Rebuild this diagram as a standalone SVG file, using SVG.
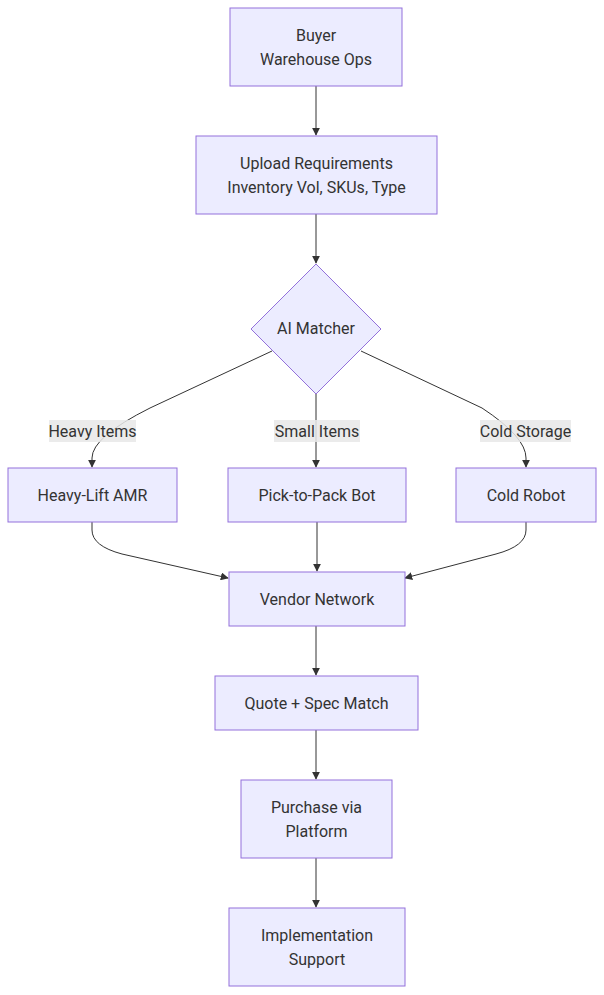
<svg xmlns="http://www.w3.org/2000/svg" width="604" height="995" viewBox="0 0 604 995">
<defs>
<marker id="arr" viewBox="0 0 10 10" refX="9" refY="5" markerWidth="8" markerHeight="8" markerUnits="userSpaceOnUse" orient="auto">
<path d="M0,0 L10,5 L0,10 z" fill="#333"/>
</marker>
<style>
.n{fill:#ECECFF;stroke:#9370DB;stroke-width:1px}
.t{font-family:Roboto,"Liberation Sans",sans-serif;font-size:16px;fill:#333;text-anchor:middle}
.e{fill:none;stroke:#333;stroke-width:1px;marker-end:url(#arr)}
.lb{fill:#e8e8e8;opacity:0.85}
</style>
</defs>
<rect width="604" height="995" fill="#fff"/>
<g id="edges">
<path class="e" d="M316,86 L316,135"/>
<path class="e" d="M316,214 L316,263"/>
<path class="e" d="M272,351 L150,408 Q92,437 92,458 L92,467"/>
<path class="e" d="M316,394 L316,467"/>
<path class="e" d="M361,351 L482,408 Q526,437 526,458 L526,467"/>
<path class="e" d="M92,522 L92,530 Q92,546 122,554 L228,578"/>
<path class="e" d="M317,522 L317,571"/>
<path class="e" d="M526,522 L526,530 Q526,546 496,554 L405,578"/>
<path class="e" d="M316,626 L316,675"/>
<path class="e" d="M316,730 L316,779"/>
<path class="e" d="M316,858 L316,907"/>
</g>
<g id="edge-labels">
<rect class="lb" x="49" y="420" width="87" height="22"/>
<text class="t" x="92.5" y="437">Heavy Items</text>
<rect class="lb" x="274" y="420" width="86" height="22"/>
<text class="t" x="317" y="437">Small Items</text>
<rect class="lb" x="480" y="420" width="91" height="22"/>
<text class="t" x="525.5" y="437">Cold Storage</text>
</g>
<g id="buyer">
<rect class="n" x="230" y="8" width="172" height="78"/>
<text class="t" x="316" y="41">Buyer</text>
<text class="t" x="316" y="65">Warehouse Ops</text>
</g>
<g id="upload">
<rect class="n" x="196" y="136" width="241" height="78"/>
<text class="t" x="316.5" y="169">Upload Requirements</text>
<text class="t" x="316.5" y="193">Inventory Vol, SKUs, Type</text>
</g>
<g id="matcher">
<polygon class="n" points="316,264 381,329 316,394 251,329"/>
<text class="t" x="316" y="334">AI Matcher</text>
</g>
<g id="heavy">
<rect class="n" x="8" y="468" width="169" height="54"/>
<text class="t" x="92.5" y="501">Heavy-Lift AMR</text>
</g>
<g id="pick">
<rect class="n" x="228" y="468" width="178" height="54"/>
<text class="t" x="317" y="501">Pick-to-Pack Bot</text>
</g>
<g id="cold">
<rect class="n" x="456" y="468" width="140" height="54"/>
<text class="t" x="526" y="501">Cold Robot</text>
</g>
<g id="vendor">
<rect class="n" x="229" y="572" width="176" height="54"/>
<text class="t" x="317" y="605">Vendor Network</text>
</g>
<g id="quote">
<rect class="n" x="215" y="676" width="203" height="54"/>
<text class="t" x="316.5" y="709">Quote + Spec Match</text>
</g>
<g id="purchase">
<rect class="n" x="241" y="780" width="151" height="78"/>
<text class="t" x="316.5" y="813">Purchase via</text>
<text class="t" x="316.5" y="837">Platform</text>
</g>
<g id="impl">
<rect class="n" x="229" y="908" width="176" height="78"/>
<text class="t" x="317" y="941">Implementation</text>
<text class="t" x="317" y="965">Support</text>
</g>
</svg>
